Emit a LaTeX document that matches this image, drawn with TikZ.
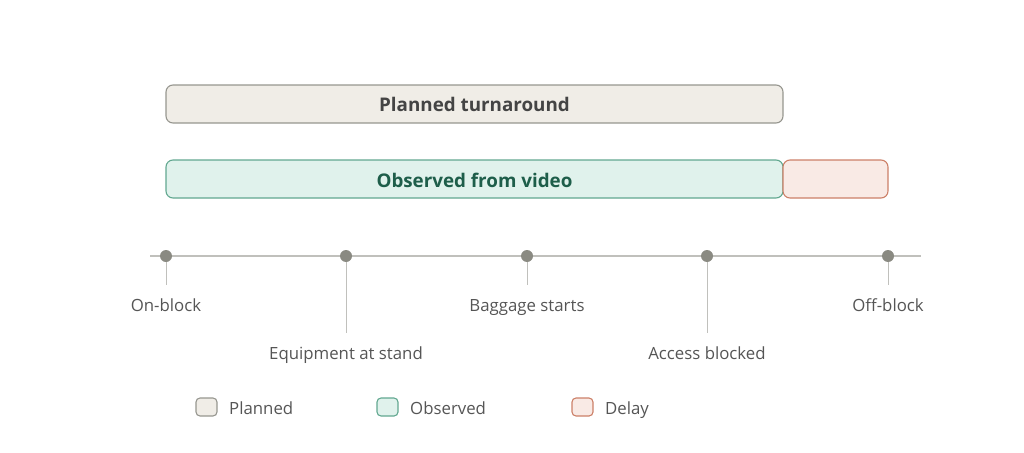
\documentclass[tikz,border=0pt]{standalone}
\usepackage{fontspec}
\setmainfont{Open Sans}
\definecolor{planfill}{HTML}{F0EDE7}
\definecolor{plandraw}{HTML}{96968F}
\definecolor{obsfill}{HTML}{E0F2EC}
\definecolor{obsdraw}{HTML}{62A890}
\definecolor{obstext}{HTML}{1E5E4A}
\definecolor{delfill}{HTML}{F9EAE5}
\definecolor{deldraw}{HTML}{CC8068}
\definecolor{dotc}{HTML}{8A8A82}
\definecolor{linec}{HTML}{C0C0BC}
\definecolor{txt}{HTML}{555555}
\definecolor{bartxt}{HTML}{444444}
\begin{document}
\begin{tikzpicture}[x=1pt,y=-1pt,
  bar/.style={rounded corners=7pt,line width=1.1pt},
  lbl/.style={font=\fontsize{16.8}{20}\selectfont,text=txt,inner sep=0pt},
  leg/.style={rounded corners=4pt,line width=1.1pt},
  dotn/.style={circle,fill=dotc,minimum size=12pt,inner sep=0pt},
  tick/.style={draw=linec,line width=1pt},
  bartext/.style={font=\fontsize{18.8}{22}\selectfont\bfseries}]
\useasboundingbox (0,0) rectangle (1024,452);
% bars
\draw[bar,fill=planfill,draw=plandraw] (166,85) rectangle (783,123);
\node[bartext,text=bartxt,anchor=base] (plan) at (474.5,111) {Planned turnaround};
\draw[bar,fill=obsfill,draw=obsdraw] (166,160) rectangle (783,198);
\node[bartext,text=obstext,anchor=base] (obs) at (474.5,187) {Observed from video};
\draw[bar,fill=delfill,draw=deldraw] (783,160) rectangle (888,198);
% timeline
\draw[draw=linec,line width=1.1pt] (150,256) -- (921,256);
\foreach \n/\x/\y/\t in {a/166/305/On-block,b/346/353/Equipment at stand,c/527/305/Baggage starts,d/707/353/Access blocked,e/888/305/Off-block}{
  \node[dotn] (dot\n) at (\x,256) {};
  \node[lbl,anchor=base] (lab\n) at (\x,\y+6) {\t};
  \coordinate (end\n) at (\x,\y-20);
  \draw[tick] (dot\n.south) -- (end\n);
}
% legend
\draw[leg,fill=planfill,draw=plandraw] (196,398) rectangle (217,416);
\node[lbl,anchor=base west] (lp) at (229,414) {Planned};
\draw[leg,fill=obsfill,draw=obsdraw] (377,398) rectangle (398,416);
\node[lbl,anchor=base west] (lo) at (410,414) {Observed};
\draw[leg,fill=delfill,draw=deldraw] (572,398) rectangle (593,416);
\node[lbl,anchor=base west] (ld) at (605,414) {Delay};
\end{tikzpicture}
\end{document}
